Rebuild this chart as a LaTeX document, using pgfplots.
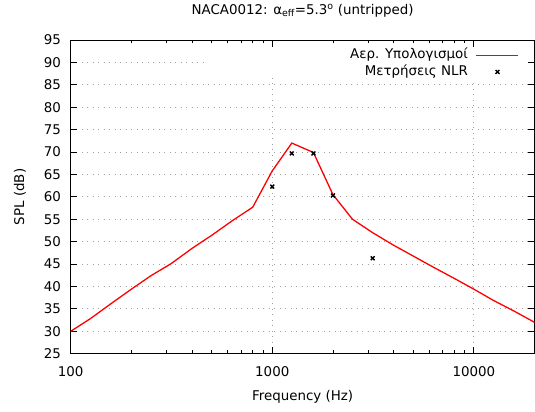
\documentclass[border=0pt]{standalone}
\usepackage{fontspec}
\setmainfont{DejaVu Sans}
\usepackage{pgfplots}
\pgfplotsset{compat=1.18}
\definecolor{gridgray}{RGB}{160,160,160}
\definecolor{curvered}{RGB}{255,0,0}
\begin{document}
\fontsize{13.4bp}{16bp}\selectfont
\begin{tikzpicture}
% grid only
\begin{axis}[
  at={(0,0)}, anchor=south west,
  scale only axis, width=463.8bp, height=313.7bp,
  xmode=log, xmin=100, xmax=20000, ymin=25, ymax=95,
  xtick={100,1000,10000},
  ytick={25,30,...,95},
  xticklabels={}, yticklabels={},
  grid=major,
  major grid style={draw=gridgray, line width=0.9bp, dash pattern=on 0.9bp off 4.6bp},
  axis line style={draw=none},
  tick style={draw=none},
]
\end{axis}
% opaque key area
\fill[white] (134.3bp,276.7bp) rectangle (463.8bp,313.7bp);
% data axis
\begin{axis}[
  at={(0,0)}, anchor=south west,
  scale only axis, width=463.8bp, height=313.7bp,
  xmode=log, xmin=100, xmax=20000, ymin=25, ymax=95,
  xtick={100,1000,10000},
  ytick={25,30,...,95},
  /pgf/number format/assume math mode=true,
  xticklabels={100,1000,10000},
  axis line style={line width=0.9bp, black},
  major tick length=6.5bp, minor tick length=3.3bp,
  tick style={black, line width=0.8bp},
  tick align=inside, tick pos=both,
  xticklabel style={anchor=base, yshift=-22.8bp},
  yticklabel style={anchor=east, inner sep=0pt, xshift=-9.7bp},
  title={NACA0012: α\textsubscript{eff}=5.3\textsuperscript{o} (untripped)},
  title style={at={(axis description cs:0.5,1)}, anchor=base, yshift=19.3bp},
  xlabel={Frequency (Hz)},
  xlabel style={at={(axis description cs:0.5,0)}, anchor=base, yshift=-47bp},
  ylabel={SPL (dB)},
  ylabel style={at={(axis description cs:-0.1007,0.5)}, anchor=base},
  legend plot pos=right, legend cell align=right,
  legend style={draw=none, at={(axis description cs:0.9673,0.9735)}, anchor=north east,
    inner sep=0pt, column sep=8bp, row sep=3.2bp,
    nodes={inner sep=0pt, text height=10bp, text depth=3.5bp}},
  legend image code/.code={\draw[mark repeat=2,mark phase=2,#1] plot coordinates {(0bp,0bp)(21bp,0bp)(42bp,0bp)};},
]
\addlegendimage{curvered, line width=1.3bp}
\addlegendentry{Αερ. Υπολογισμοί}
\addlegendimage{only marks, mark=x, mark size=2.7bp, black, mark options={line width=1.4bp}}
\addlegendentry{Μετρήσεις NLR}
\addplot[curvered, line width=1.3bp, forget plot] coordinates {
 (100,30.0) (125,32.8) (160,36.3) (200,39.4) (250,42.4) (315,45.1) (400,48.5)
 (500,51.4) (630,54.6) (800,57.7) (1000,65.8) (1250,72.0) (1600,69.9) (2000,60.5)
 (2500,55.0) (3150,52.0) (4000,49.2) (5000,46.8) (6300,44.3) (8000,41.8)
 (10000,39.4) (12500,36.9) (16000,34.4) (20000,32.0)};
\addplot[only marks, mark=x, mark size=2.7bp, black, mark options={line width=1.4bp}, forget plot] coordinates {
 (1000,62.3) (1250,69.7) (1600,69.7) (2000,60.3) (3150,46.3)};
\end{axis}
\pgfresetboundingbox
\path[use as bounding box] (-70.7bp,-58.3bp) rectangle (464.3bp,353.7bp);
\end{tikzpicture}
\end{document}
